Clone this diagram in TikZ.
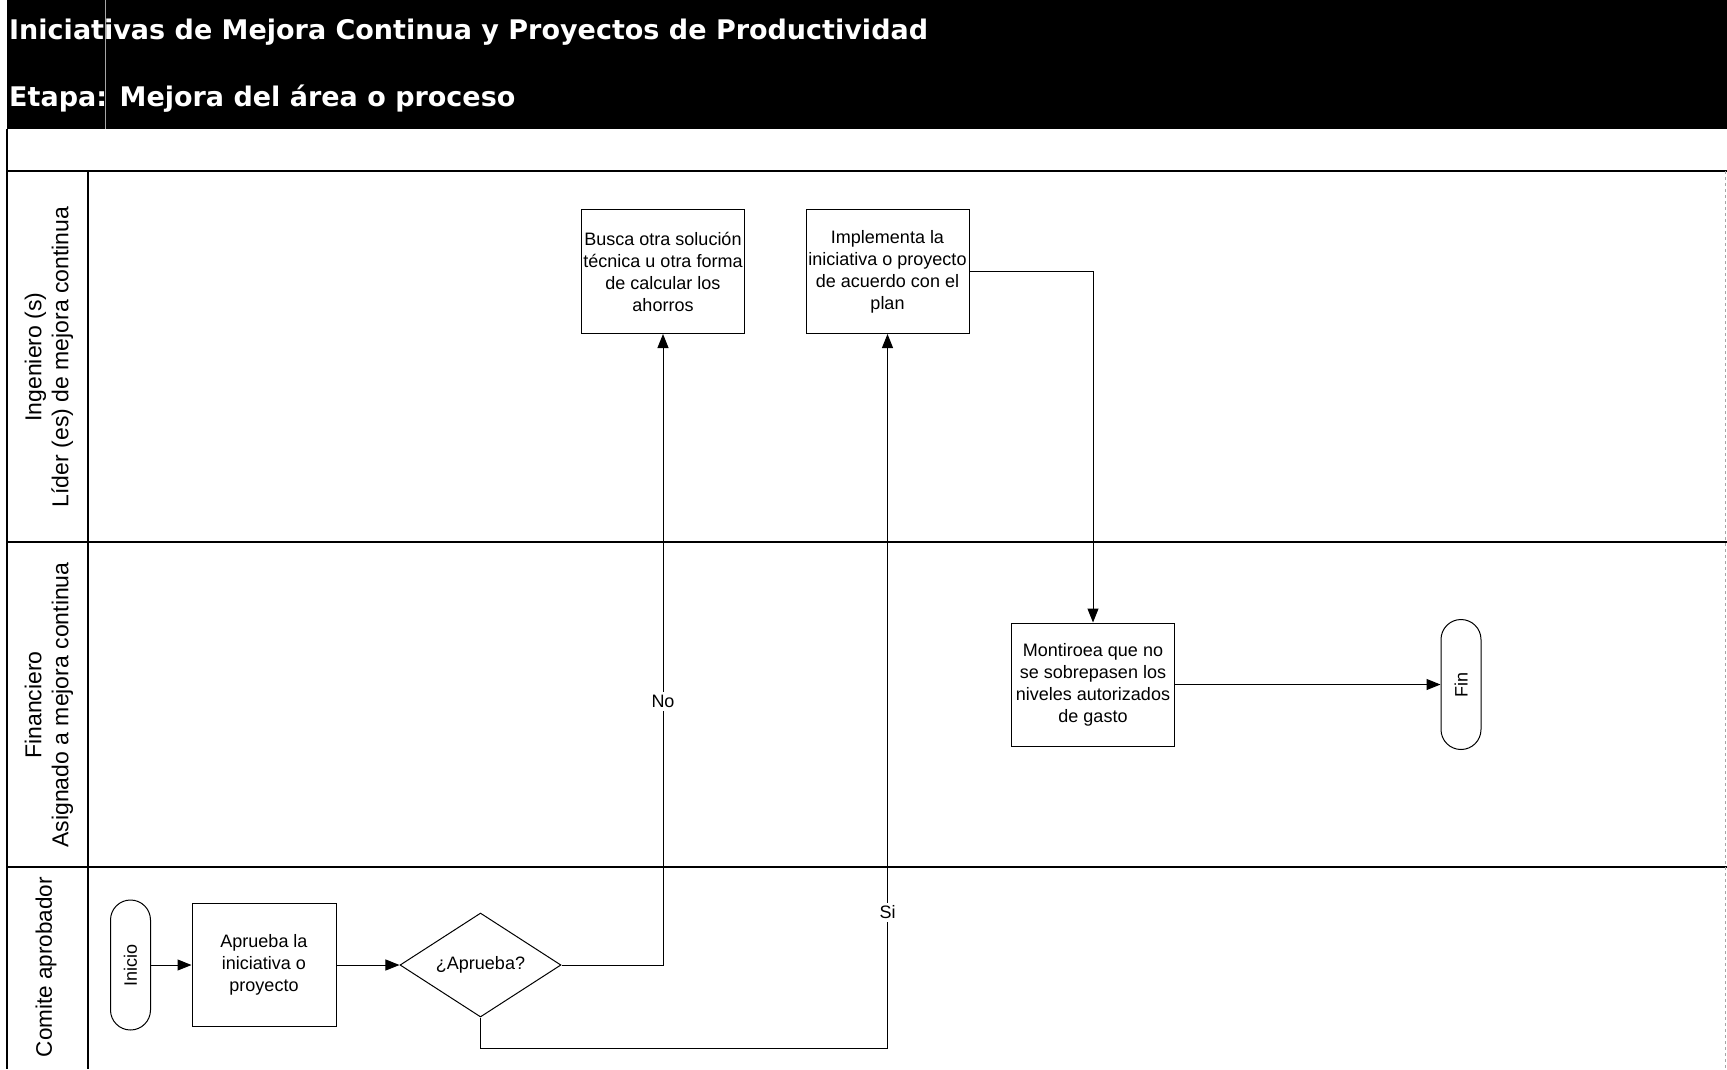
\documentclass[tikz,border=0pt]{standalone}
\usepackage{fontspec}
\setmainfont{Liberation Sans}
\newfontfamily\titlefont{DejaVu Sans}
\usetikzlibrary{arrows.meta, positioning, shapes.geometric}

\begin{document}
\begin{tikzpicture}[
    x=1pt, y=-1pt, font=\fontsize{18}{22}\selectfont,
    proc/.style={draw, line width=1pt, align=center, minimum width=163pt, minimum height=124pt, inner sep=1pt},
    term/.style={draw, line width=1pt, rounded corners=20pt, minimum width=40pt, minimum height=130pt, inner sep=0pt},
    decision/.style={draw, line width=1pt, diamond, aspect=1.55, minimum width=161pt, minimum height=104pt, inner sep=0pt},
    lane/.style={rotate=90, align=center, font=\fontsize{23}{27}\selectfont},
    head/.style={anchor=west, text=white, inner sep=0pt, font=\titlefont\bfseries\fontsize{27}{31}\selectfont},
    lbl/.style={fill=white, inner sep=3pt},
    flow/.style={line width=1pt},
    border/.style={line width=1.5pt},
    >={Triangle[length=14pt, width=11pt]}]
\useasboundingbox (0,0) rectangle (1727,1069);

% black header band
\fill (7,0) rectangle (1727,129);
\draw[gray!70, line width=0.8pt] (105,0) -- (105,129);
\node[head] (titulo) at (9,32) {Iniciativas de Mejora Continua y Proyectos de Productividad};
\node[head] (etapa) at (9,99) {Etapa: Mejora del área o proceso};

% swimlane frame
\draw[border] (7,129) -- (7,1069);
\draw[border] (7,171) -- (1727,171);
\draw[border] (7,542) -- (1727,542);
\draw[border] (7,867) -- (1727,867);
\draw[border] (88,171) -- (88,1069);
\draw[gray!70, line width=1pt, dashed] (1725,171) -- (1725,1069);

\node[lane] (lider) at (49,357) {Ingeniero (s)\\Líder (es) de mejora continua};
\node[lane] (finan) at (49,705) {Financiero\\Asignado a mejora continua};
\node[lane, font=\fontsize{22.5}{27}\selectfont] (comite) at (46,967) {Comite aprobador};

% process steps
\node[term] (inicio) at (130.5,965) {\rotatebox{90}{Inicio}};
\node[proc, minimum width=144pt, minimum height=123pt] (aprueba) at (264,965) {Aprueba la\\iniciativa o\\proyecto};
\node[decision] (dec) at (480.5,965) {¿Aprueba?};
\node[proc] (busca) at (663,271.5) {Busca otra solución\\técnica u otra forma\\de calcular los\\ahorros};
\node[proc] (impl) at (887.5,271.5) {Implementa la\\iniciativa o proyecto\\de acuerdo con el\\plan};
\node[proc, minimum height=123pt] (monit) at (1093,684.5) {Montiroea que no\\se sobrepasen los\\niveles autorizados\\de gasto};
\node[term] (fin) at (1461,684.5) {\rotatebox{90}{Fin}};
\coordinate (siturn) at (887.5,1048);

\draw[flow, ->] (inicio) -- (aprueba);
\draw[flow, ->] (aprueba) -- (dec);
\draw[flow, ->] (dec.east) -| node[lbl, pos=0.709] {No} (busca.south);
\draw[flow] (dec.south) |- (siturn);
\draw[flow, ->] (siturn) -- node[lbl, pos=0.19] {Si} (impl.south);
\draw[flow, ->] (impl.east) -| (monit.north);
\draw[flow, ->] (monit) -- (fin);
\end{tikzpicture}
\end{document}
